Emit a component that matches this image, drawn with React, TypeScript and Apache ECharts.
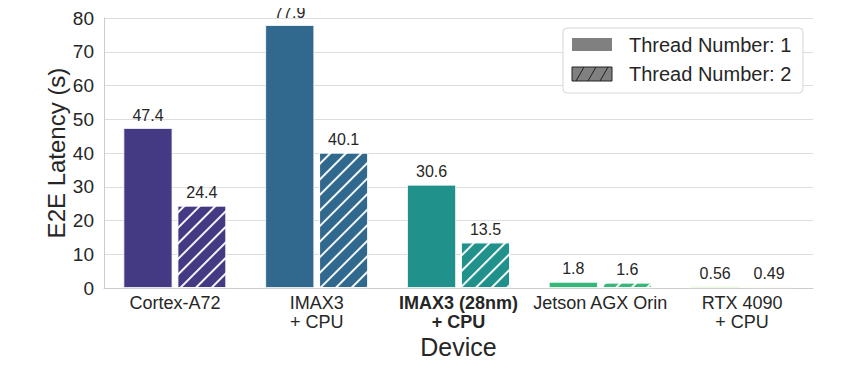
import React, { useEffect, useRef } from "react";
import * as echarts from "echarts";

const categories = ["Cortex-A72", "IMAX3\n+ CPU", "IMAX3 (28nm)\n+ CPU", "Jetson AGX Orin", "RTX 4090\n+ CPU"];
const boldCategoryIndex = 2;
const thread1 = [47.4, 77.9, 30.6, 1.8, 0.56];
const thread2 = [24.4, 40.1, 13.5, 1.6, 0.49];
const colors = ["#443983", "#31688e", "#21918c", "#35b779", "#90d743"];
const legendNames = ["Thread Number: 1", "Thread Number: 2"];
const yTicks = { min: 0, max: 80, interval: 10 };

const FONT = "'Liberation Sans', Arial, Helvetica, sans-serif";
const TEXT = "#262626";

function hatchLines(L: number, T: number, W: number, H: number, step: number, dx: number) {
  const R = L + W;
  const B = T + H;
  const out: any[] = [];
  for (let c = L - dx; c < R; c += step) {
    let t0 = 0, t1 = 1;
    if (c < L) t0 = Math.max(t0, (L - c) / dx);
    if (c + dx > R) t1 = Math.min(t1, (R - c) / dx);
    if (t1 <= t0) continue;
    out.push({
      type: "line",
      shape: { x1: c + dx * t0, y1: B - H * t0, x2: c + dx * t1, y2: B - H * t1 },
      style: { stroke: "#222", lineWidth: 1 },
      z: 101,
    });
  }
  return out;
}

export default function App() {
  const ref = useRef<HTMLDivElement>(null);
  useEffect(() => {
    if (!ref.current) return;
    const chart = echarts.init(ref.current, undefined, { renderer: "svg" });
    const decal = {
      symbol: "rect",
      symbolSize: 1,
      color: "rgba(255,255,255,0.95)",
      dashArrayX: [1, 0],
      dashArrayY: [1.6, 8.4],
      rotation: -Math.PI / 4,
    };
    const labelCfg = {
      show: true,
      position: "top",
      distance: 5,
      fontSize: 16,
      color: TEXT,
      fontFamily: FONT,
    };
    const lx = 563, ly = 28, lw = 240, lh = 65;
    const graphic: any[] = [
      {
        type: "rect",
        shape: { x: lx, y: ly, width: lw, height: lh, r: 4 },
        style: { fill: "#ffffff", stroke: "#d6d6d6", lineWidth: 1 },
        z: 100,
      },
      {
        type: "rect",
        shape: { x: 572, y: 38, width: 40, height: 13 },
        style: { fill: "#808080" },
        z: 101,
      },
      {
        type: "rect",
        shape: { x: 572, y: 67, width: 40, height: 14 },
        style: { fill: "#808080", stroke: "#222", lineWidth: 1 },
        z: 101,
      },
      ...hatchLines(572, 67, 40, 14, 12, 8),
      {
        type: "text",
        x: 629,
        y: 45,
        style: { text: legendNames[0], font: `20px ${FONT}`, fill: TEXT, verticalAlign: "middle" },
        z: 102,
      },
      {
        type: "text",
        x: 629,
        y: 74,
        style: { text: legendNames[1], font: `20px ${FONT}`, fill: TEXT, verticalAlign: "middle" },
        z: 102,
      },
    ];
    chart.setOption({
      animation: false,
      backgroundColor: "#ffffff",
      textStyle: { fontFamily: FONT },
      grid: { left: 104, right: 46, top: 18, bottom: 80, containLabel: false },
      xAxis: {
        type: "category",
        data: categories,
        name: "Device",
        nameLocation: "middle",
        nameGap: 46,
        nameMoveOverlap: false,
        nameTextStyle: { fontSize: 25, color: TEXT, fontFamily: FONT },
        axisLine: { show: true, lineStyle: { color: "#cccccc", width: 1 } },
        axisTick: { show: false },
        splitLine: { show: false },
        axisLabel: {
          interval: 0,
          fontSize: 18,
          lineHeight: 19,
          color: TEXT,
          fontFamily: FONT,
          margin: 5,
          formatter: (v: string, i: number) =>
            i === boldCategoryIndex ? v.split("\n").map((s) => `{b|${s}}`).join("\n") : v,
          rich: { b: { fontWeight: "bold", fontSize: 18, lineHeight: 19, color: TEXT, fontFamily: FONT } },
        },
      },
      yAxis: {
        type: "value",
        min: yTicks.min,
        max: yTicks.max,
        interval: yTicks.interval,
        name: "E2E Latency (s)",
        nameLocation: "middle",
        nameGap: 36,
        nameMoveOverlap: false,
        nameTextStyle: { fontSize: 24, color: TEXT, fontFamily: FONT },
        axisLine: { show: true, lineStyle: { color: "#cccccc", width: 1 } },
        axisTick: { show: false },
        splitLine: { show: true, lineStyle: { color: "#dddddd", width: 1 } },
        axisLabel: { fontSize: 19, color: TEXT, fontFamily: FONT, margin: 10 },
      },
      series: [
        {
          name: legendNames[0],
          type: "bar",
          barWidth: 49,
          barGap: "10%",
          data: thread1.map((v, i) => ({ value: v, itemStyle: { color: colors[i] } })),
          itemStyle: { borderColor: "#ffffff", borderWidth: 0.8 },
          label: labelCfg,
        },
        {
          name: legendNames[1],
          type: "bar",
          barWidth: 49,
          barGap: "10%",
          data: thread2.map((v, i) => ({ value: v, itemStyle: { color: colors[i], decal } })),
          itemStyle: { borderColor: "#ffffff", borderWidth: 0.8, decal },
          label: labelCfg,
        },
      ],
      graphic,
    });
    return () => chart.dispose();
  }, []);
  return <div ref={ref} style={{ width: 859, height: 368, margin: -8 }} />;
}
